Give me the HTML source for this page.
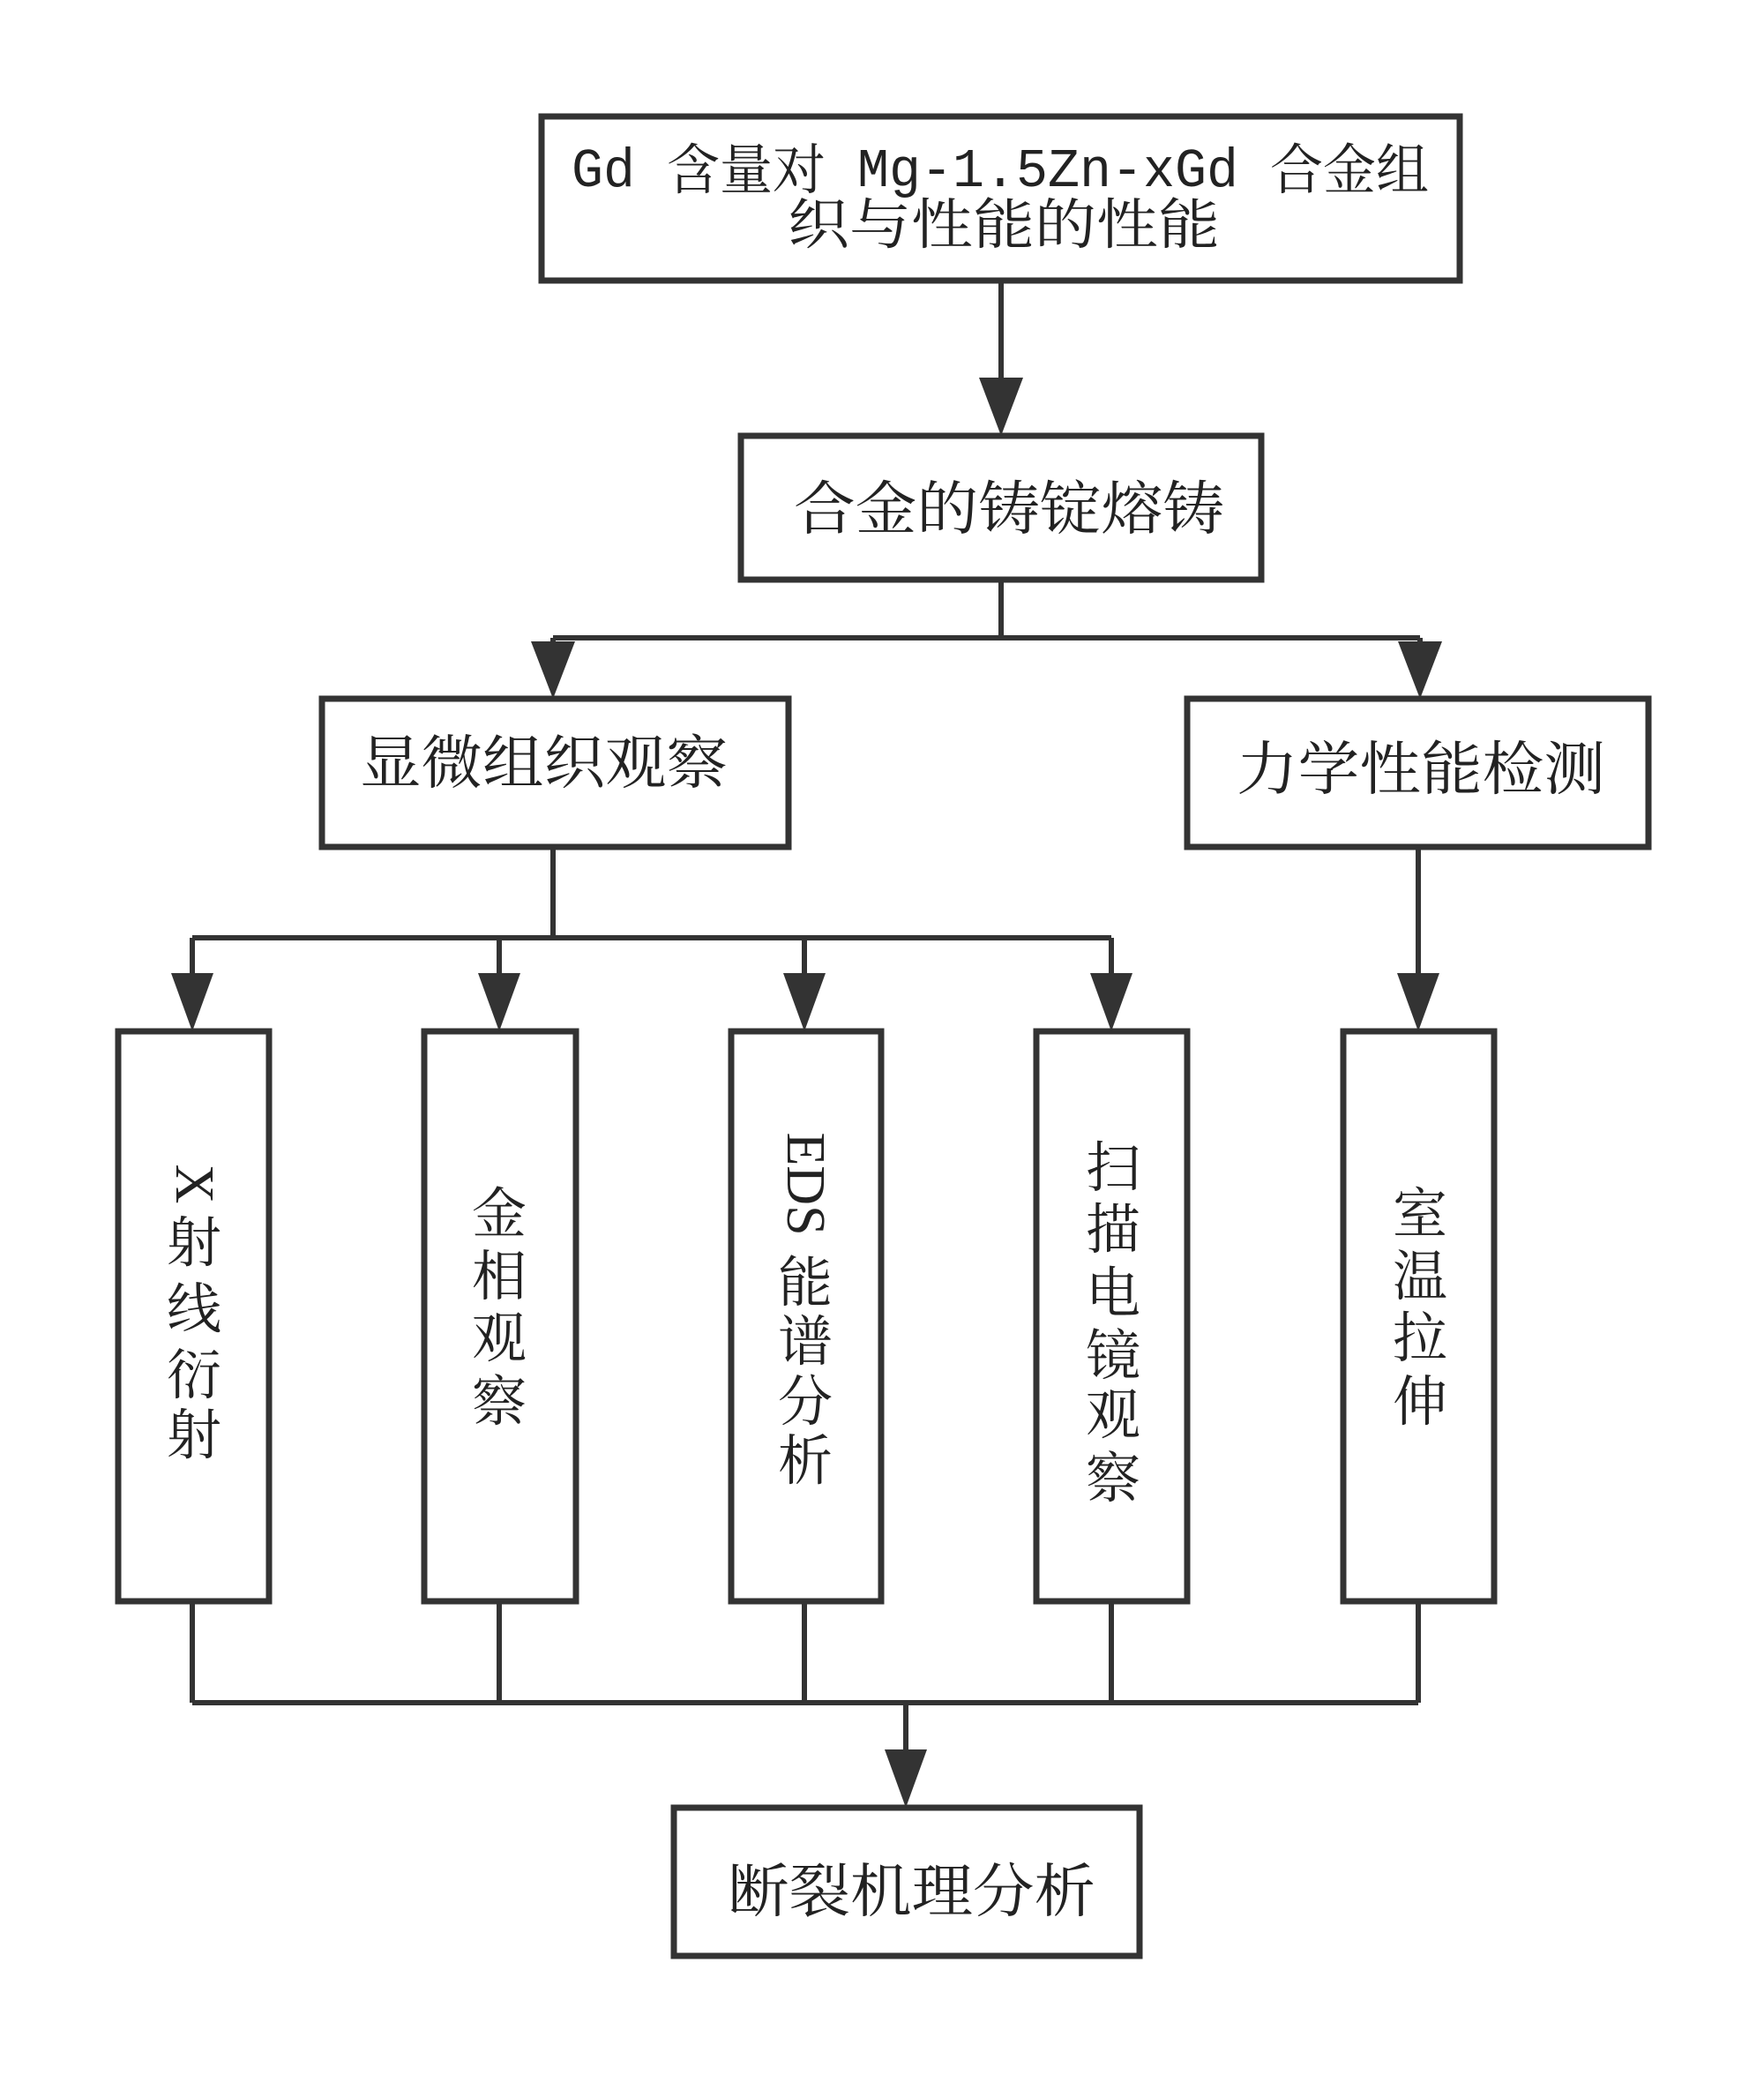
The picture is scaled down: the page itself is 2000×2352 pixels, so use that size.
<!DOCTYPE html>
<html><head><meta charset="utf-8"><style>html,body{margin:0;padding:0;background:#fff}svg{display:block}</style></head>
<body>
<svg width="2000" height="2352" viewBox="0 0 2000 2352" xmlns="http://www.w3.org/2000/svg" font-family="'Liberation Serif','Noto Serif CJK SC',serif" fill="#222">
<g fill="none" stroke="#333" stroke-width="7">
<rect x="614" y="132" width="1041" height="186"/>
<rect x="840" y="494" width="590" height="163"/>
<rect x="365" y="792" width="529" height="168"/>
<rect x="1346" y="792" width="523" height="168"/>
<rect x="134" y="1169" width="171" height="646"/>
<rect x="481" y="1169" width="172" height="646"/>
<rect x="829" y="1169" width="170" height="646"/>
<rect x="1175" y="1169" width="171" height="646"/>
<rect x="1523" y="1169" width="171" height="646"/>
<rect x="764" y="2049" width="528" height="168"/>
</g>
<g fill="none" stroke="#333" stroke-width="6">
<path d="M1135 318V440"/>
<path d="M1135 657V723M627 723H1610M627 723V740M1610 723V740"/>
<path d="M627 960V1063M218 1063H1260M218 1063V1110M566 1063V1110M912 1063V1110M1260 1063V1110"/>
<path d="M1608 960V1110"/>
<path d="M218 1815V1930M566 1815V1930M912 1815V1930M1260 1815V1930M1608 1815V1930M218 1930H1608M1027 1930V1990"/>
</g>
<g fill="#333">
<polygon points="1110,428 1160,428 1135,494"/>
<polygon points="602,727 652,727 627,792"/>
<polygon points="1585,727 1635,727 1610,792"/>
<polygon points="194,1103 242,1103 218,1169"/>
<polygon points="542,1103 590,1103 566,1169"/>
<polygon points="888,1103 936,1103 912,1169"/>
<polygon points="1236,1103 1284,1103 1260,1169"/>
<polygon points="1584,1103 1632,1103 1608,1169"/>
<polygon points="1003,1983 1051,1983 1027,2049"/>
</g>
<g font-size="62" dominant-baseline="central">
<text x="648" y="194" textLength="972" lengthAdjust="spacingAndGlyphs"><tspan font-family="'Liberation Mono','Noto Serif CJK SC',monospace">Gd </tspan>含量对<tspan font-family="'Liberation Mono','Noto Serif CJK SC',monospace"> Mg-1.5Zn-xGd </tspan>合金组</text>
<text x="893" y="256" textLength="490" lengthAdjust="spacingAndGlyphs">织与性能的性能</text>
<text x="900" y="578" font-size="66" textLength="488" lengthAdjust="spacingAndGlyphs">合金的铸锭熔铸</text>
<text x="408" y="866" font-size="66" textLength="417" lengthAdjust="spacingAndGlyphs">显微组织观察</text>
<text x="1402" y="873" font-size="66" textLength="418" lengthAdjust="spacingAndGlyphs">力学性能检测</text>
<text x="825" y="2145" font-size="66" textLength="417" lengthAdjust="spacingAndGlyphs">断裂机理分析</text>
</g>
<g font-size="62" text-anchor="middle" dominant-baseline="central">
<text x="0" y="0" transform="translate(220,1342) rotate(90)">X</text>
<text x="220" y="1410">射</text><text x="220" y="1485">线</text><text x="220" y="1560">衍</text><text x="220" y="1628">射</text>
<text x="566" y="1377">金</text><text x="566" y="1448">相</text><text x="566" y="1518">观</text><text x="566" y="1590">察</text>
<text x="0" y="0" transform="translate(913,1342) rotate(90)">EDS</text>
<text x="913" y="1455">能</text><text x="913" y="1522">谱</text><text x="913" y="1590">分</text><text x="913" y="1657">析</text>
<text x="1262" y="1325">扫</text><text x="1262" y="1395">描</text><text x="1262" y="1467">电</text><text x="1262" y="1538">镜</text><text x="1262" y="1605">观</text><text x="1262" y="1677">察</text>
<text x="1610" y="1377">室</text><text x="1610" y="1448">温</text><text x="1610" y="1518">拉</text><text x="1610" y="1590">伸</text>
</g>
</svg>
</body></html>
